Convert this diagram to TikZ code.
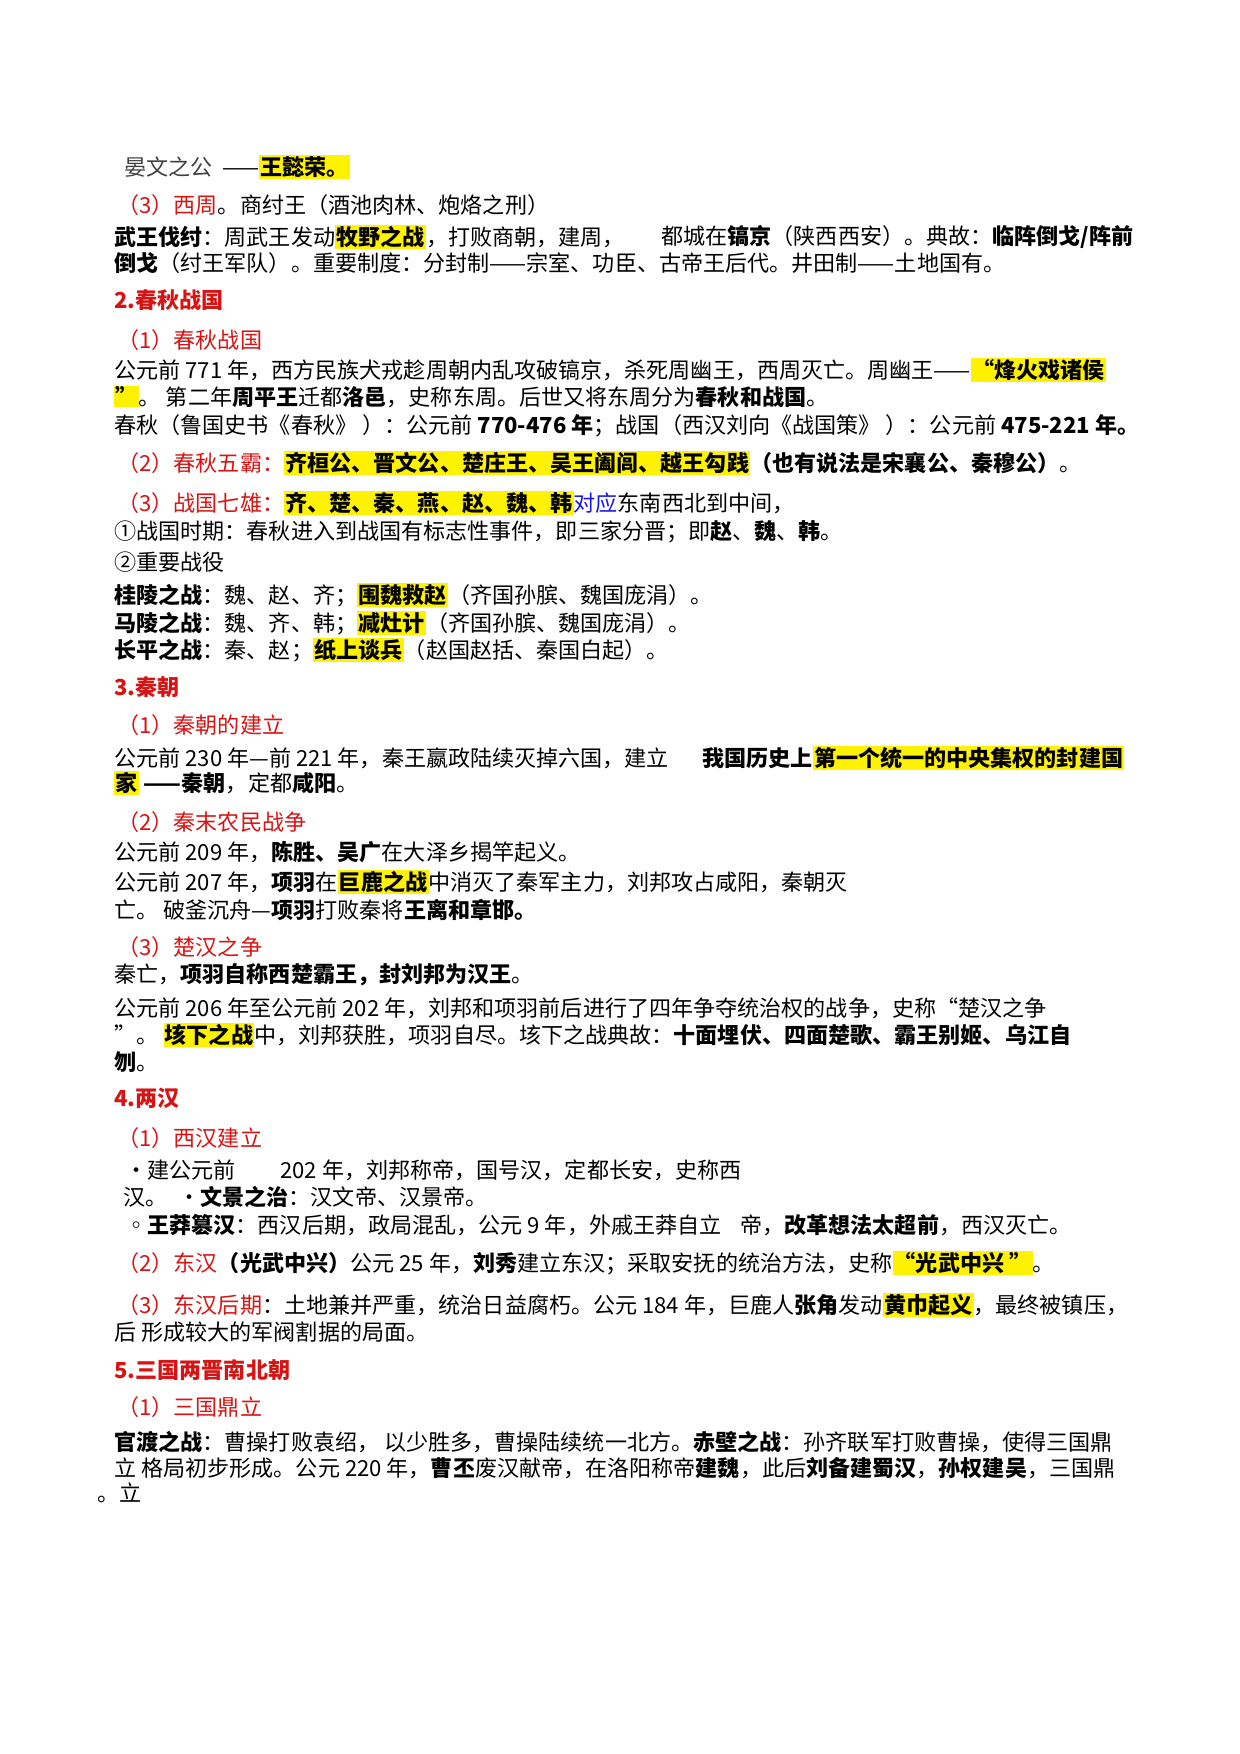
\documentclass[tikz,border=0pt]{standalone}
\usepackage{fontspec}
\setmainfont{Noto Sans CJK SC}
\definecolor{hred}{RGB}{215,20,20}
\definecolor{hblue}{RGB}{20,20,240}
\newcommand{\hl}[1]{{\setlength{\fboxsep}{0.6pt}\colorbox{yellow}{\textbf{#1}}}}
\newcommand{\rd}[1]{\textcolor{hred}{#1}}
\begin{document}
\begin{tikzpicture}[x=0.4801pt,y=-0.4801pt,
  t/.style={anchor=west,inner sep=0pt,font=\fontsize{10.6}{12}\selectfont,text=black},
  h/.style={t,font=\fontsize{10.6}{12}\selectfont\bfseries,text=hred},
  s/.style={t,text=hred}]
\useasboundingbox[fill=white] (0,0) rectangle (1240,1754);
\node[t,text=black!75] (a0) at (124,167) {晏文之公};
\node[t] (a1) at (222,167) {——\hl{王懿荣。}};
\node[t] (a2) at (117,205) {\rd{（3）西周}。商纣王（酒池肉林、炮烙之刑）};
\node[t] (a3) at (114,237) {\textbf{武王伐纣}：周武王发动\hl{牧野之战}，打败商朝，建周，};
\node[t] (a3b) at (661,237) {都城在\textbf{镐京}（陕西西安）。典故：\textbf{临阵倒戈/阵前}};
\node[t] (a4) at (114,263) {\textbf{倒戈}（纣王军队）。重要制度：分封制——宗室、功臣、古帝王后代。井田制——土地国有。};
\node[h] (b0) at (114,300) {2.春秋战国};
\node[s] (b1) at (117,340) {（1）春秋战国};
\node[t] (b2) at (114,370) {公元前 771 年，西方民族犬戎趁周朝内乱攻破镐京，杀死周幽王，西周灭亡。周幽王——\hl{“烽火戏诸侯}};
\node[t] (b3) at (114,397) {\hl{”}。 第二年\textbf{周平王}迁都\textbf{洛邑}，史称东周。后世又将东周分为\textbf{春秋和战国}。};
\node[t] (b4) at (114,426) {春秋（鲁国史书《春秋》 ）：公元前 \textbf{770-476 年}；战国（西汉刘向《战国策》 ）：公元前 \textbf{475-221 年。}};
\node[t] (b5) at (117,463) {\rd{（2）春秋五霸：}\hl{齐桓公、晋文公、楚庄王、吴王阖闾、越王勾践}\textbf{（也有说法是宋襄公、秦穆公）}。};
\node[t] (b6) at (117,503) {\rd{（3）战国七雄：}\hl{齐、楚、秦、燕、赵、魏、韩}\textcolor{hblue}{对应}东南西北到中间，};
\node[t] (b7) at (114,532) {①战国时期：春秋进入到战国有标志性事件，即三家分晋；即\textbf{赵}、\textbf{魏}、\textbf{韩}。};
\node[t] (b8) at (114,562) {②重要战役};
\node[t] (b9) at (114,595) {\textbf{桂陵之战}：魏、赵、齐；\hl{围魏救赵}（齐国孙膑、魏国庞涓）。};
\node[t] (b10) at (114,623) {\textbf{马陵之战}：魏、齐、韩；\hl{减灶计}（齐国孙膑、魏国庞涓）。};
\node[t] (b11) at (114,650) {\textbf{长平之战}：秦、赵；\hl{纸上谈兵}（赵国赵括、秦国白起）。};
\node[h] (c0) at (114,687) {3.秦朝};
\node[s] (c1) at (117,725) {（1）秦朝的建立};
\node[t] (c2) at (114,758) {公元前 230 年—前 221 年，秦王嬴政陆续灭掉六国，建立};
\node[t] (c2b) at (702,758) {\textbf{我国历史上}\hl{第一个统一的中央集权的封建国}};
\node[t] (c3) at (114,783) {\hl{家} \textbf{——秦朝}，定都\textbf{咸阳}。};
\node[s] (c4) at (117,822) {（2）秦末农民战争};
\node[t] (c5) at (114,852) {公元前 209 年，\textbf{陈胜、吴广}在大泽乡揭竿起义。};
\node[t] (c6) at (114,882) {公元前 207 年，\textbf{项羽}在\hl{巨鹿之战}中消灭了秦军主力，刘邦攻占咸阳，秦朝灭};
\node[t] (c7) at (114,910) {亡。 破釜沉舟—\textbf{项羽}打败秦将\textbf{王离和章邯。}};
\node[s] (c8) at (117,947) {（3）楚汉之争};
\node[t] (c9) at (114,975) {秦亡，\textbf{项羽自称西楚霸王，封刘邦为汉王}。};
\node[t] (c10) at (114,1008) {公元前 206 年至公元前 202 年，刘邦和项羽前后进行了四年争夺统治权的战争，史称“楚汉之争};
\node[t] (c11) at (114,1035) {”。 \hl{垓下之战}中，刘邦获胜，项羽自尽。垓下之战典故：\textbf{十面埋伏、四面楚歌、霸王别姬、乌江自}};
\node[t] (c12) at (114,1062) {\textbf{刎}。};
\node[h] (d0) at (114,1098) {4.两汉};
\node[s] (d1) at (117,1138) {（1）西汉建立};
\node[t] (d2) at (125,1170) {•建公元前};
\node[t] (d2b) at (280,1170) {202 年，刘邦称帝，国号汉，定都长安，史称西};
\node[t] (d3) at (123,1197) {汉。};
\node[t] (d3b) at (178,1197) {•\textbf{文景之治}：汉文帝、汉景帝。};
\node[t] (d4) at (125,1225) {◦\textbf{王莽篡汉}：西汉后期，政局混乱，公元 9 年，外戚王莽自立};
\node[t] (d4b) at (740,1225) {帝，\textbf{改革想法太超前}，西汉灭亡。};
\node[t] (d5) at (117,1263) {\rd{（2）东汉}\textbf{（光武中兴）}公元 25 年，\textbf{刘秀}建立东汉；采取安抚的统治方法，史称\hl{“光武中兴 ”}。};
\node[t] (d6) at (117,1305) {\rd{（3）东汉后期}：土地兼并严重，统治日益腐朽。公元 184 年，巨鹿人\textbf{张角}发动\hl{黄巾起义}，最终被镇压，};
\node[t] (d7) at (114,1332) {后 形成较大的军阀割据的局面。};
\node[h] (e0) at (114,1370) {5.三国两晋南北朝};
\node[s] (e1) at (117,1407) {（1）三国鼎立};
\node[t] (e2) at (114,1442) {\textbf{官渡之战}：曹操打败袁绍， 以少胜多，曹操陆续统一北方。\textbf{赤壁之战}：孙齐联军打败曹操，使得三国鼎};
\node[t] (e3) at (114,1468) {立 格局初步形成。公元 220 年，\textbf{曹丕}废汉献帝，在洛阳称帝\textbf{建魏}，此后\textbf{刘备建蜀汉}，\textbf{孙权建吴}，三国鼎};
\node[t] (e4) at (97,1493) {。立};
\end{tikzpicture}
\end{document}
